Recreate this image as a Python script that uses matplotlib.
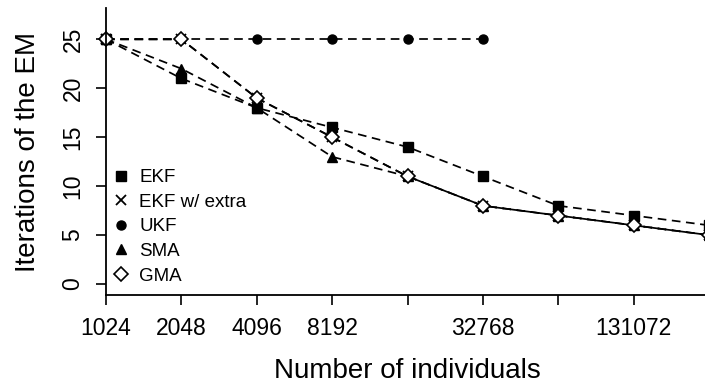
import matplotlib
matplotlib.use('Agg')
import matplotlib.pyplot as plt
from matplotlib.lines import Line2D

plt.rcParams['font.family'] = ['Liberation Sans', 'DejaVu Sans']

## Data
individuals = [1024, 2048, 4096, 8192, 16384, 32768, 65536, 131072, 262144]
tick_labels = ['1024', '2048', '4096', '8192', '', '32768', '', '131072', '']
ekf = [25, 21, 18, 16, 14, 11, 8, 7, 6]
ekf_extra = [25, 25, 19, 15, 11, 8, 7, 6, 5]
ukf = [25, 25, 25, 25, 25, 25]
sma = [25, 22, 18, 13, 11, 8, 7, 6, 5]
gma = [25, 25, 19, 15, 11, 8, 7, 6, 5]

W, H = 705, 387
fig = plt.figure(figsize=(W / 100, H / 100), dpi=100)
# axes runs a little past the right edge, like the cropped original
ax = fig.add_axes([106 / W, (H - 295) / H, (709 - 106) / W, (295 - 8) / H])

dash = (0, (5, 3.2))
lw = 1.25
ax.plot(individuals, ekf, color='black', lw=lw, linestyle=dash,
        marker='s', ms=7, clip_on=False)
ax.plot(individuals, ekf_extra, color='black', lw=lw, linestyle=dash,
        marker='x', ms=7, mew=1.3, clip_on=False)
ax.plot(individuals[:len(ukf)], ukf, color='black', lw=lw, linestyle=dash,
        marker='o', ms=6.5, clip_on=False)
ax.plot(individuals, sma, color='black', lw=lw, linestyle=dash,
        marker='^', ms=7.5, clip_on=False)
ax.plot(individuals, gma, color='black', lw=lw, linestyle=dash,
        marker='D', ms=7, mfc='white', mew=1.2, clip_on=False)

ax.set_xscale('log', base=2)
ax.set_xlim(1024, 262144)
ax.set_ylim(-1.12, 28.2)
ax.set_xticks(individuals)
ax.set_xticklabels(tick_labels)
ax.minorticks_off()
ax.set_yticks([0, 5, 10, 15, 20, 25])
ax.set_yticklabels(['0', '5', '10', '15', '20', '25'], rotation=90, va='center')

for side in ['top', 'right']:
    ax.spines[side].set_visible(False)
for side in ['left', 'bottom']:
    ax.spines[side].set_linewidth(1.3)
ax.tick_params(axis='both', length=7.5, width=1.2, labelsize=16.5, direction='out')
ax.tick_params(axis='x', pad=8)
ax.tick_params(axis='y', pad=8)

ax.set_xlabel('Number of individuals', fontsize=20, labelpad=13)
ax.set_ylabel('Iterations of the EM', fontsize=20, labelpad=15)

handles = [
    Line2D([], [], color='black', linestyle='none', marker='s', ms=7),
    Line2D([], [], color='black', linestyle='none', marker='x', ms=7, mew=1.3),
    Line2D([], [], color='black', linestyle='none', marker='o', ms=6.5),
    Line2D([], [], color='black', linestyle='none', marker='^', ms=7.5),
    Line2D([], [], color='black', linestyle='none', marker='D', ms=7,
           mfc='white', mew=1.2),
]
labels = ['EKF', 'EKF w/ extra', 'UKF', 'SMA', 'GMA']
fig.legend(handles, labels, loc='upper left', bbox_to_anchor=(113 / W, 1 - 169 / H),
           frameon=False, fontsize=13.5, handlelength=0.8, handletextpad=0.6,
           labelspacing=0.4, borderpad=0, borderaxespad=0)

fig.savefig('out.png', dpi=100)
